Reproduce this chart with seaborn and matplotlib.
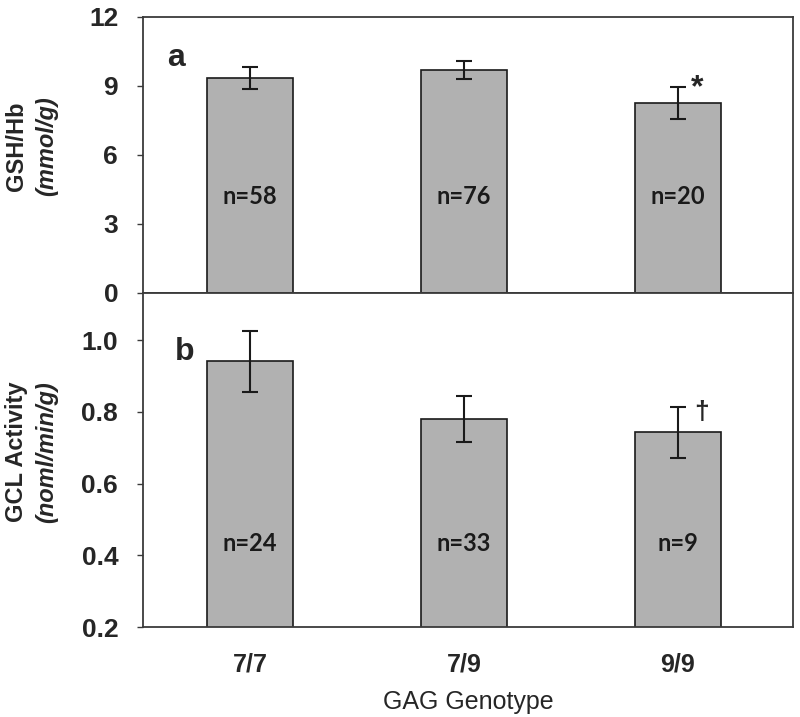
import seaborn as sns
import matplotlib.pyplot as plt
import numpy as np
import pandas as pd

genotipos = ['7/7', '7/9', '9/9']

gsh_media = [9.35, 9.70, 8.25]
gsh_erro = [0.48, 0.38, 0.70]
gsh_n = ['n=58', 'n=76', 'n=20']

gcl_media = [0.941, 0.779, 0.743]
gcl_erro = [0.085, 0.064, 0.071]
gcl_n = ['n=24', 'n=33', 'n=9']

df_gsh = pd.DataFrame({'Genotipo': genotipos, 'Valor': gsh_media})
df_gcl = pd.DataFrame({'Genotipo': genotipos, 'Valor': gcl_media})

sns.set_style('ticks')
plt.rcParams['font.family'] = ['Liberation Sans', 'DejaVu Sans']

cor_barra = '#b1b1b1'
cor_eixo = '#3a3a3a'

fig = plt.figure(figsize=(8, 7.17), dpi=100)
ax_a = fig.add_axes([0.179, 0.5914, 0.8125, 0.385])
ax_b = fig.add_axes([0.179, 0.1255, 0.8125, 0.4658])

def desenha(ax, df, erro, rotulos, y_rotulo):
    sns.barplot(data=df, x='Genotipo', y='Valor', color=cor_barra, width=0.4,
                edgecolor='#1a1a1a', linewidth=1.2, saturation=1, ax=ax)
    ax.errorbar(np.arange(len(genotipos)), df['Valor'], yerr=erro, fmt='none',
                ecolor='#1a1a1a', elinewidth=1.5, capsize=6, capthick=1.5)
    for i, txt in enumerate(rotulos):
        ax.text(i, y_rotulo, txt, ha='center', va='center', fontsize=17,
                fontweight='bold', family=['Lato', 'DejaVu Sans'], color='#1a1a1a')
    ax.set_xlim(-0.5, 2.54)
    ax.set_xlabel('')
    for lado in ['top', 'right', 'bottom', 'left']:
        ax.spines[lado].set_visible(True)
        ax.spines[lado].set_color(cor_eixo)
        ax.spines[lado].set_linewidth(1.3)
    ax.tick_params(axis='y', direction='out', length=4, width=1, color=cor_eixo,
                   labelsize=19, pad=14)
    ax.tick_params(axis='x', length=0)

desenha(ax_a, df_gsh, gsh_erro, gsh_n, 4.2)
ax_a.set_ylim(0, 12)
ax_a.set_yticks([0, 3, 6, 9, 12])
ax_a.set_yticklabels(['0', '3', '6', '9', '12'], fontweight='bold')
ax_a.set_xticklabels([])
ax_a.set_ylabel('')
ax_a.text(0.037, 0.85, 'a', transform=ax_a.transAxes, fontsize=23, fontweight='bold',
          ha='left', va='center')
ax_a.text(2.09, 8.9, '*', fontsize=23, fontweight='bold', ha='center', va='center')
fig.text(0.021, 0.796, 'GSH/Hb', rotation=90, fontsize=17, fontweight='bold',
         ha='center', va='center')
fig.text(0.058, 0.796, '(mmol/g)', rotation=90, fontsize=17, fontweight='bold',
         style='italic', ha='center', va='center')

desenha(ax_b, df_gcl, gcl_erro, gcl_n, 0.434)
ax_b.set_ylim(0.2, 1.131)
ax_b.set_yticks([0.2, 0.4, 0.6, 0.8, 1.0])
ax_b.set_yticklabels(['0.2', '0.4', '0.6', '0.8', '1.0'], fontweight='bold')
ax_b.set_xticks(range(len(genotipos)))
ax_b.set_xticklabels(genotipos, fontsize=18, fontweight='bold')
ax_b.tick_params(axis='x', pad=18)
ax_b.set_ylabel('')
ax_b.set_xlabel('GAG Genotype', fontsize=18, labelpad=10)
ax_b.text(0.048, 0.823, 'b', transform=ax_b.transAxes, fontsize=23, fontweight='bold',
          ha='left', va='center')
ax_b.text(2.11, 0.80, '†', fontsize=19, fontweight='bold', ha='center', va='center')
fig.text(0.021, 0.37, 'GCL Activity', rotation=90, fontsize=17, fontweight='bold',
         ha='center', va='center')
fig.text(0.058, 0.37, '(noml/min/g)', rotation=90, fontsize=17, fontweight='bold',
         style='italic', ha='center', va='center')

plt.savefig('out.png', dpi=100)
